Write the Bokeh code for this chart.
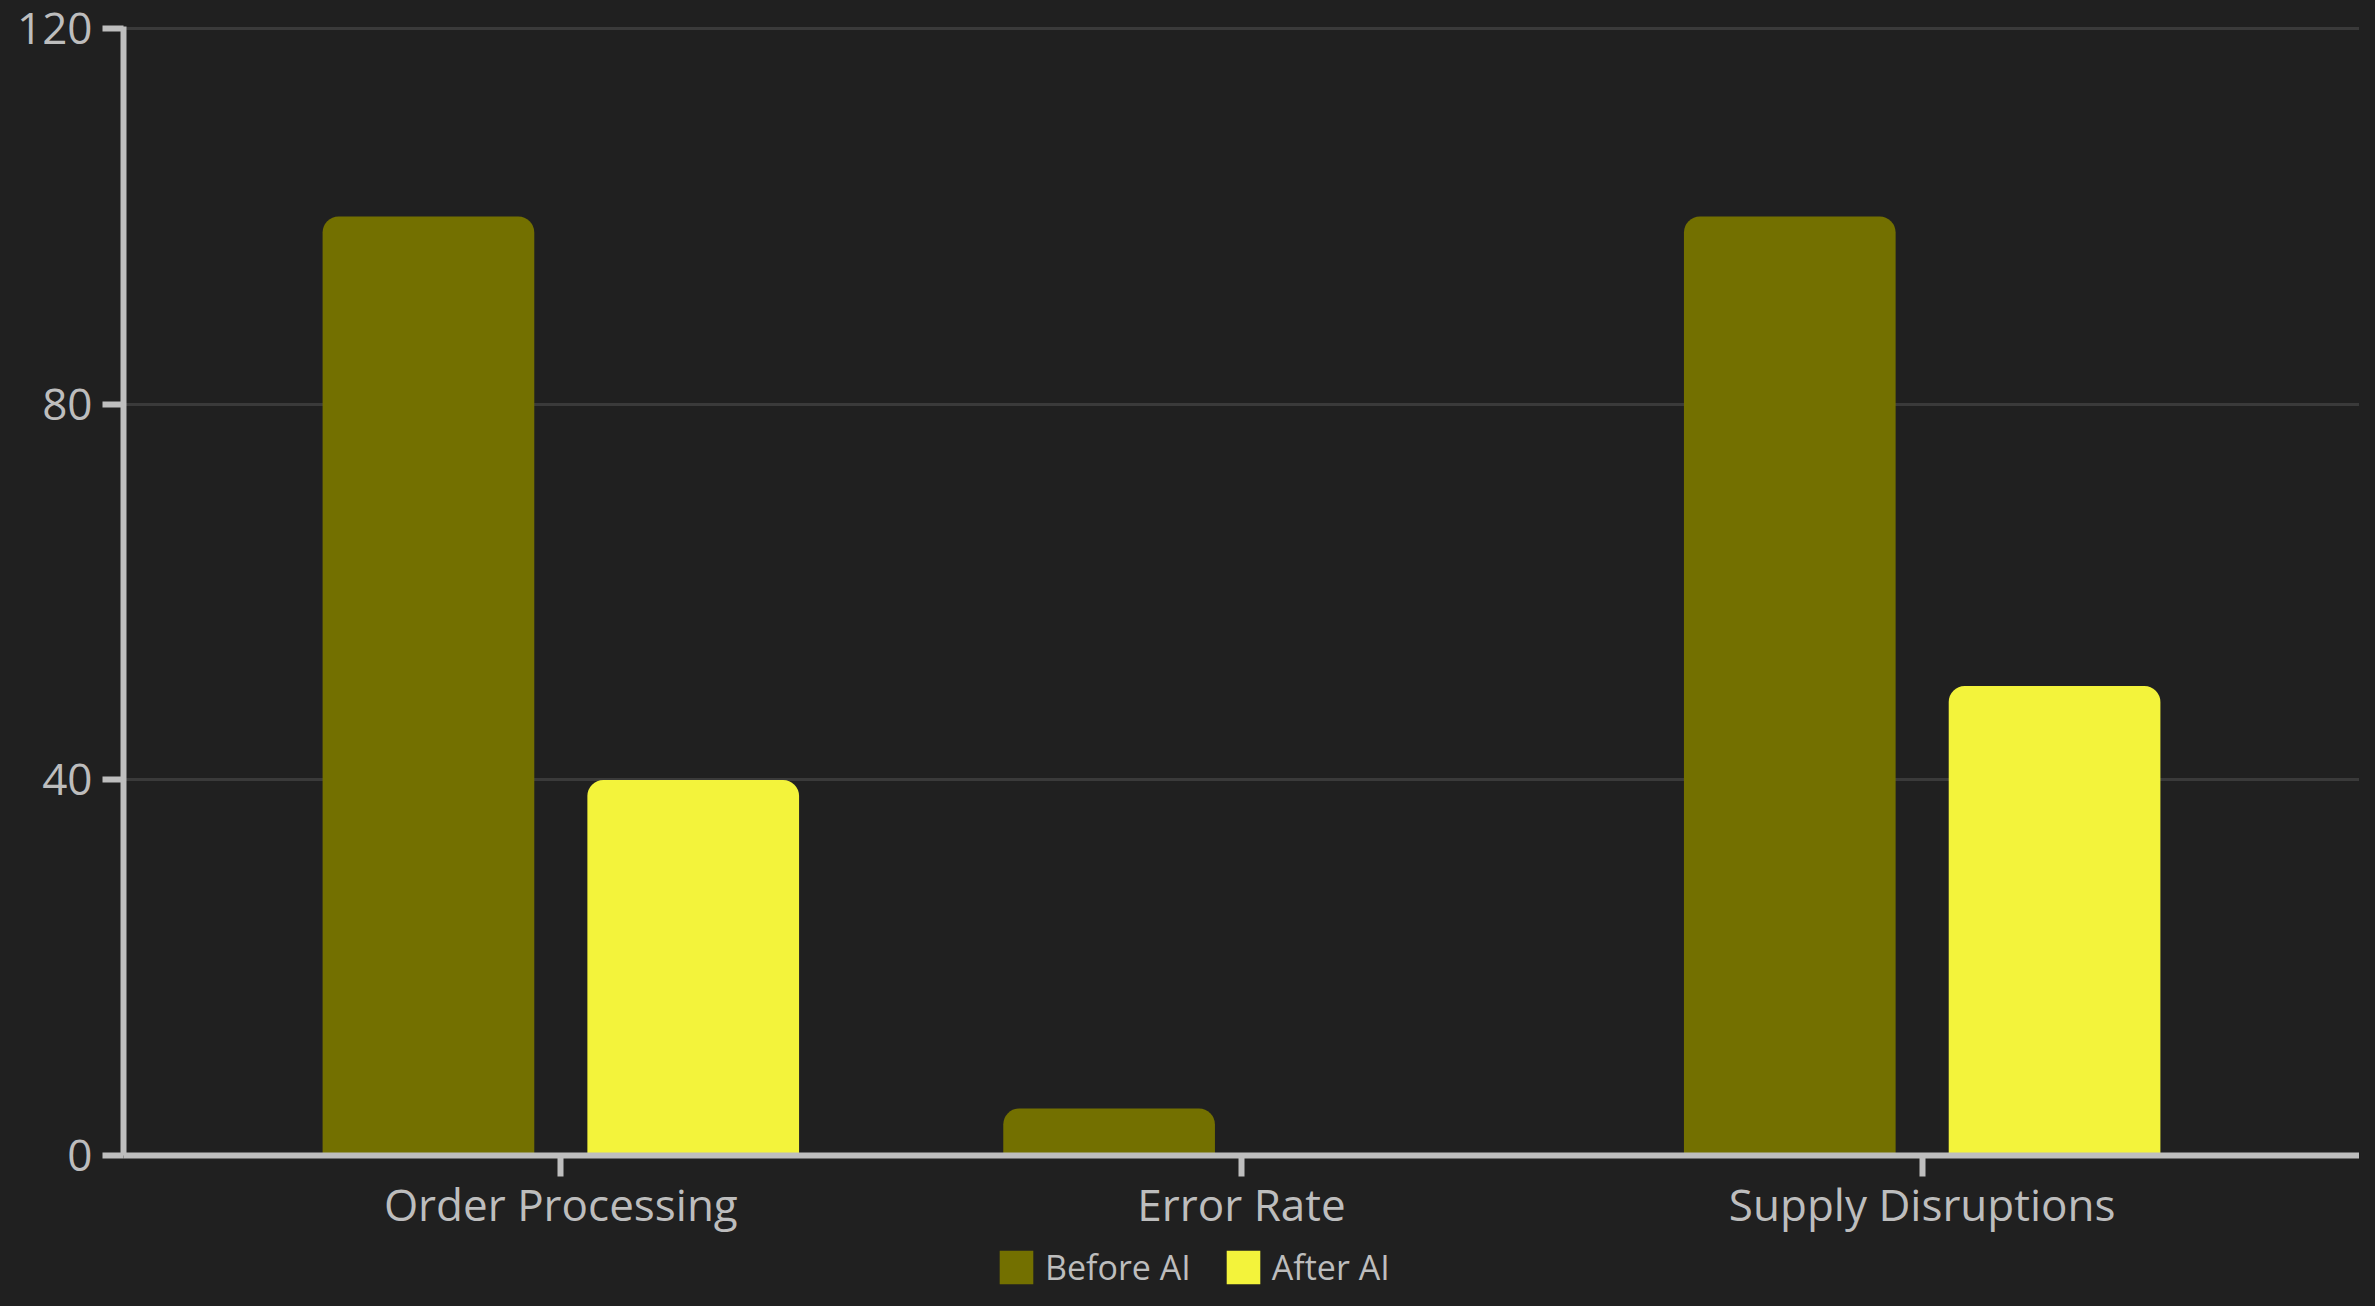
from bokeh.plotting import figure
from bokeh.layouts import column
from bokeh.models import ColumnDataSource, FactorRange, Range1d, FixedTicker, Legend, LegendItem
from bokeh.transform import dodge
from bokeh.embed import file_html
from bokeh.resources import INLINE

categories = ["Order Processing", "Error Rate", "Supply Disruptions"]
before_ai = [100, 5, 100]
after_ai = [40, 0, 50]
y_ticks = [0, 40, 80, 120]
series_names = ["Before AI", "After AI"]

BG = "#202020"
AXIS = "#bebebe"
TEXT = "#bdbdbd"
GRID = "#3a3a3a"
C_BEFORE = "#737000"
C_AFTER = "#f3f33b"
FONT = "Open Sans"

source = ColumnDataSource(data=dict(cat=categories, before=before_ai, after=after_ai))

p = figure(
    x_range=FactorRange(*categories, range_padding=0.095),
    y_range=Range1d(0, 120.25),
    width=2359, height=1240,
    output_backend="svg", toolbar_location=None,
    background_fill_color=BG, border_fill_color=BG,
    min_border_left=123, min_border_top=26, min_border_bottom=85, min_border_right=0,
    outline_line_color=None,
)

r1 = p.vbar(x=dodge("cat", -0.1945, range=p.x_range), top="before", bottom=0, width=0.311,
            source=source, fill_color=C_BEFORE, line_color=None, border_radius=(16, 16, 0, 0))
r2 = p.vbar(x=dodge("cat", 0.1945, range=p.x_range), top="after", bottom=0, width=0.311,
            source=source, fill_color=C_AFTER, line_color=None, border_radius=(16, 16, 0, 0))

# grid
p.xgrid.grid_line_color = None
p.ygrid.grid_line_color = GRID
p.ygrid.grid_line_width = 3
p.ygrid.ticker = FixedTicker(ticks=y_ticks)

# axes
p.yaxis.ticker = FixedTicker(ticks=y_ticks)
p.yaxis.minor_tick_line_color = None
for ax in (p.xaxis[0], p.yaxis[0]):
    ax.axis_line_color = AXIS
    ax.axis_line_width = 6
    ax.major_tick_line_color = AXIS
    ax.major_tick_line_width = 6
    ax.major_tick_in = 0
    ax.major_tick_out = 21
    ax.major_label_text_color = TEXT
    ax.major_label_text_font = FONT
    ax.major_label_text_font_size = "44px"
    ax.major_label_standoff = 10
p.xaxis.major_label_standoff = -3

# legend strip below the chart; its renderers are hidden, only the legend shows
leg_fig = figure(
    width=2359, height=50, output_backend="svg", toolbar_location=None,
    background_fill_color=BG, border_fill_color=BG, outline_line_color=None,
    min_border=0, x_range=FactorRange(*categories), y_range=Range1d(0, 1),
)
leg_fig.axis.visible = False
leg_fig.grid.visible = False
l1 = leg_fig.vbar(x="cat", top="before", width=0.3, source=source,
                  fill_color=C_BEFORE, line_color=None, visible=False)
l2 = leg_fig.vbar(x="cat", top="after", width=0.3, source=source,
                  fill_color=C_AFTER, line_color=None, visible=False)

legend = Legend(
    items=[LegendItem(label=series_names[0], renderers=[l1]),
           LegendItem(label=series_names[1], renderers=[l2])],
    location=(872, 0), orientation="horizontal",
    label_text_font=FONT, label_text_font_size="34px", label_text_color=TEXT,
    glyph_width=42, glyph_height=42, label_standoff=8, spacing=31,
    padding=0, margin=0, border_line_color=None, background_fill_alpha=0,
    inactive_fill_alpha=0,
)
leg_fig.add_layout(legend, "center")

layout = column(p, leg_fig, spacing=0)

html = file_html(layout, INLINE)
html = html.replace("<head>", "<head><style>html,body{background:#202020;}</style>", 1)
open("out.html", "w").write(html)
